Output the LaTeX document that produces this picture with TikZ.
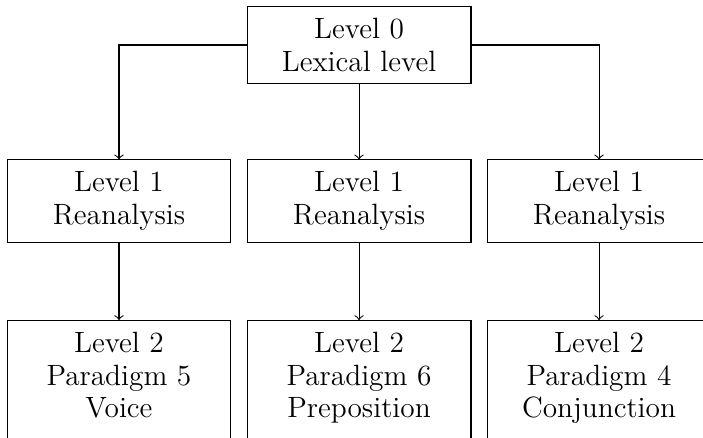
\documentclass[tikz,border=0pt]{standalone}
\usepackage{tikz}

\tikzset{lvlbox/.style={draw,minimum width=2.95cm,align=center,inner ysep=4.36pt,font=\fontsize{11}{12.2}\selectfont},
  lastbox/.style={lvlbox,anchor=north,text depth=0.5cm}}

\begin{document}
\begin{tikzpicture}
\clip (0,0) rectangle (9.265,-5.76);
\useasboundingbox (0,0) rectangle (9.265,-5.76);
\node[lvlbox] (lv0) at (4.732,-0.593) {Level 0\\Lexical level};
\node[lvlbox] (lv1a) at (1.568,-2.649) {Level 1\\Reanalysis};
\node[lvlbox] (lv1b) at (4.732,-2.649) {Level 1\\Reanalysis};
\node[lvlbox] (lv1c) at (7.895,-2.649) {Level 1\\Reanalysis};
\node[lastbox] (lv2a) at (1.568,-4.218) {Level 2\\Paradigm 5\\Voice};
\node[lastbox] (lv2b) at (4.732,-4.218) {Level 2\\Paradigm 6\\Preposition};
\node[lastbox] (lv2c) at (7.895,-4.218) {Level 2\\Paradigm 4\\Conjunction};
\draw[->] (lv0.west) -| (lv1a.north);
\draw[->] (lv0.south) -- (lv1b.north);
\draw[->] (lv0.east) -| (lv1c.north);
\draw[->] (lv1a.south) -- (lv2a.north);
\draw[->] (lv1b.south) -- (lv2b.north);
\draw[->] (lv1c.south) -- (lv2c.north);
\end{tikzpicture}
\end{document}
